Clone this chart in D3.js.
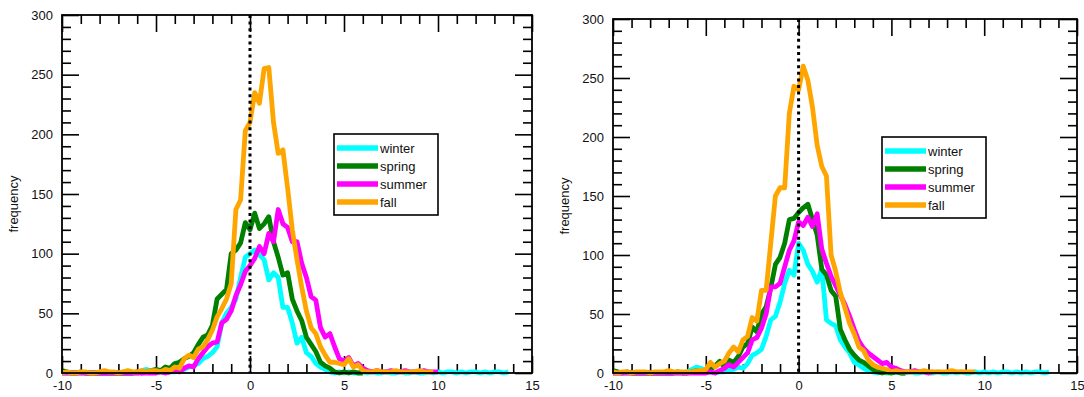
<!DOCTYPE html>
<html>
<head>
<meta charset="utf-8">
<script src="https://cdn.jsdelivr.net/npm/d3@7"></script>
<style>
  body { margin: 0; background: #fff; }
  svg text { font-family: "Liberation Sans", Arial, sans-serif; }
</style>
</head>
<body>
<div id="chart"></div>
<script>
// bins start at -10 and step by 0.25
const binStart = -10
const binStep = 0.25

const seasons = ["winter", "spring", "summer", "fall"]
const colors = ["#00ffff", "#008000", "#ff00ff", "#ffa500"]

const xTicks = [-10, -5, 0, 5, 10, 15]
const yTicks = [0, 50, 100, 150, 200, 250, 300]

// left panel
const leftWinter = [
  0,0,0,0,0,0,0,0,0,0, 0,0,0,0,0,0,0,2,3,1,
  0,1,0,1,1,2,3,5,6,8, 12,14,17,22,42,50,55,62,80,97,
  100,103,99,95,78,84,80,55,55,42, 25,30,17,14,8,5,3,1,0,1,
  0,1,0,0,1,0,1,0,0,1, 0,0,1,0,0,1,0,0,1,0,
  1,0,1,1,0,1,0,1,1,0, 1,0,1,1,0,1
]
const leftSpring = [
  2,1,0,0,1,0,0,0,0,0, 0,0,0,0,0,0,1,0,1,2,
  3,2,5,4,8,9,12,14,17,24, 30,32,40,62,66,70,100,103,109,126,
  120,134,121,125,131,110,97,82,84,62, 52,44,30,24,18,9,6,4,1,0,
  1,0,1,0,0
]
const leftSummer = [
  0,0,0,0,0,0,0,0,0,0, 0,0,0,0,0,0,0,0,0,0,
  0,1,0,1,2,1,4,6,5,12, 17,22,25,26,42,45,52,65,74,85,
  90,96,106,100,117,110,137,125,122,110, 110,92,80,64,61,38,30,33,22,12,
  10,13,6,8,4,2,1,2,1,1, 2,1,1,2,1,1,1,2,1,1,
  1
]
const leftFall = [
  0,1,0,0,1,1,0,0,1,2, 1,1,0,1,2,1,1,2,1,2,
  2,1,3,2,5,4,12,15,13,20, 22,28,36,47,54,62,75,137,145,203,
  210,235,226,255,256,210,184,187,155,120, 95,72,52,38,33,22,15,9,9,8,
  7,12,5,7,2,1,1,2,1,1, 1,2,1,1,1,1,2,1,1,1
]

// right panel
const rightWinter = [
  0,0,0,0,0,0,0,0,0,0, 0,0,0,0,0,0,1,3,5,4,
  2,1,0,1,1,2,3,5,4,8, 15,17,20,31,45,48,60,76,87,83,
  110,104,92,86,77,88,45,42,40,28, 22,17,9,7,4,2,1,0,1,0,
  0,1,0,0,1,0,0,1,0,0, 1,0,0,1,0,1,0,0,1,0,
  1,0,1,0,1,1,0,1,0,1, 0,1,1,0,1
]
const rightSpring = [
  2,1,0,1,0,0,0,0,0,0, 0,0,0,0,1,0,0,1,2,1,
  2,3,6,10,5,11,9,14,22,25, 39,35,50,56,72,92,98,110,130,131,
  136,140,143,130,117,88,83,70,65,37, 28,20,15,11,9,6,3,1,0,1,
  0,1,0,0
]
const rightSummer = [
  0,0,0,0,0,0,0,0,0,0, 0,0,0,0,0,0,0,0,0,0,
  0,1,0,2,4,7,5,9,13,17, 28,30,38,50,73,73,76,90,104,112,
  128,125,132,124,135,105,93,82,74,66, 58,48,37,27,21,17,14,11,8,9,
  5,4,2,1,1,2,1,1,0,1
]
const rightFall = [
  1,0,1,1,0,1,1,1,0,1, 1,1,2,1,1,1,1,1,2,2,
  3,9,5,8,10,17,22,18,28,31, 47,44,70,70,110,150,157,157,220,243,
  240,260,248,225,193,175,167,100,86,68, 55,42,33,22,19,11,7,5,4,3,
  1,2,1,1,1,1,1,2,1,1, 1,1,1,2,1,1,1,1,1
]

const panels = [
  { left: 62, top: 15, width: 470, height: 358, legendX: 272, legendY: 119,
    series: [leftWinter, leftSpring, leftSummer, leftFall] },
  { left: 613, top: 19, width: 464, height: 354, legendX: 269, legendY: 118,
    series: [rightWinter, rightSpring, rightSummer, rightFall] }
]

const svg = d3.select("#chart")
  .append("svg")
  .attr("width", 1084)
  .attr("height", 397)

panels.forEach(p => drawPanel(p))

function drawPanel(p) {
  const g = svg.append("g").attr("transform", `translate(${p.left},${p.top})`)

  const x = d3.scaleLinear().domain([-10, 15]).range([0, p.width])
  const y = d3.scaleLinear().domain([0, 300]).range([p.height, 0])

  const minorX = d3.range(-10, 15.5, 1).filter(v => v % 5 !== 0)
  const minorY = d3.range(0, 301, 10).filter(v => v % 50 !== 0)
  const fmt = d => String(d)

  // minor ticks on all four sides, pointing inward
  g.append("g").attr("class", "ax").attr("transform", `translate(0,${p.height})`)
    .call(d3.axisBottom(x).tickValues(minorX).tickSize(-9).tickSizeOuter(0).tickFormat(""))
  g.append("g").attr("class", "ax")
    .call(d3.axisTop(x).tickValues(minorX).tickSize(-9).tickSizeOuter(0).tickFormat(""))
  g.append("g").attr("class", "ax")
    .call(d3.axisLeft(y).tickValues(minorY).tickSize(-9).tickSizeOuter(0).tickFormat(""))
  g.append("g").attr("class", "ax").attr("transform", `translate(${p.width},0)`)
    .call(d3.axisRight(y).tickValues(minorY).tickSize(-9).tickSizeOuter(0).tickFormat(""))

  // major ticks
  g.append("g").attr("class", "ax").attr("transform", `translate(0,${p.height})`)
    .call(d3.axisBottom(x).tickValues(xTicks).tickSize(-17).tickSizeOuter(0).tickPadding(8).tickFormat(fmt))
  g.append("g").attr("class", "ax")
    .call(d3.axisTop(x).tickValues(xTicks).tickSize(-17).tickSizeOuter(0).tickFormat(""))
  g.append("g").attr("class", "ax")
    .call(d3.axisLeft(y).tickValues(yTicks).tickSize(-17).tickSizeOuter(0).tickPadding(9).tickFormat(fmt))
  g.append("g").attr("class", "ax").attr("transform", `translate(${p.width},0)`)
    .call(d3.axisRight(y).tickValues(yTicks).tickSize(-17).tickSizeOuter(0).tickFormat(""))

  g.selectAll(".ax .domain").remove()
  g.selectAll(".ax line").attr("stroke", "#000").attr("stroke-width", 1.6)
  g.selectAll(".ax text").attr("font-size", 13).attr("fill", "#111")
    .attr("font-family", "Liberation Sans, Arial, sans-serif")

  // series lines
  const line = d3.line()
    .x((d, i) => x(binStart + i * binStep))
    .y(d => y(d))

  p.series.forEach((vals, k) => {
    g.append("path")
      .datum(vals)
      .attr("fill", "none")
      .attr("stroke", colors[k])
      .attr("stroke-width", 4.8)
      .attr("stroke-linejoin", "round")
      .attr("d", line)
  })

  // dotted zero line
  g.append("line")
    .attr("x1", x(0)).attr("x2", x(0))
    .attr("y1", 0).attr("y2", p.height)
    .attr("stroke", "#000")
    .attr("stroke-width", 3)
    .attr("stroke-dasharray", "3,3.6")

  // frame
  g.append("rect")
    .attr("width", p.width).attr("height", p.height)
    .attr("fill", "none").attr("stroke", "#000").attr("stroke-width", 1.8)

  // y label
  g.append("text")
    .attr("transform", `translate(${-44},${p.height / 2 + 10}) rotate(-90)`)
    .attr("text-anchor", "middle")
    .attr("font-size", 13)
    .attr("fill", "#111")
    .text("frequency")

  // legend
  const lg = g.append("g").attr("transform", `translate(${p.legendX},${p.legendY})`)
  lg.append("rect")
    .attr("width", 104).attr("height", 81)
    .attr("fill", "#fff").attr("stroke", "#000").attr("stroke-width", 1.6)
  seasons.forEach((s, k) => {
    const ly = 14 + k * 18
    lg.append("line")
      .attr("x1", 3).attr("x2", 44).attr("y1", ly).attr("y2", ly)
      .attr("stroke", colors[k]).attr("stroke-width", 5.5)
    lg.append("text")
      .attr("x", 46).attr("y", ly + 5)
      .attr("font-size", 13)
      .attr("fill", "#111")
      .text(s)
  })
}
</script>
</body>
</html>
